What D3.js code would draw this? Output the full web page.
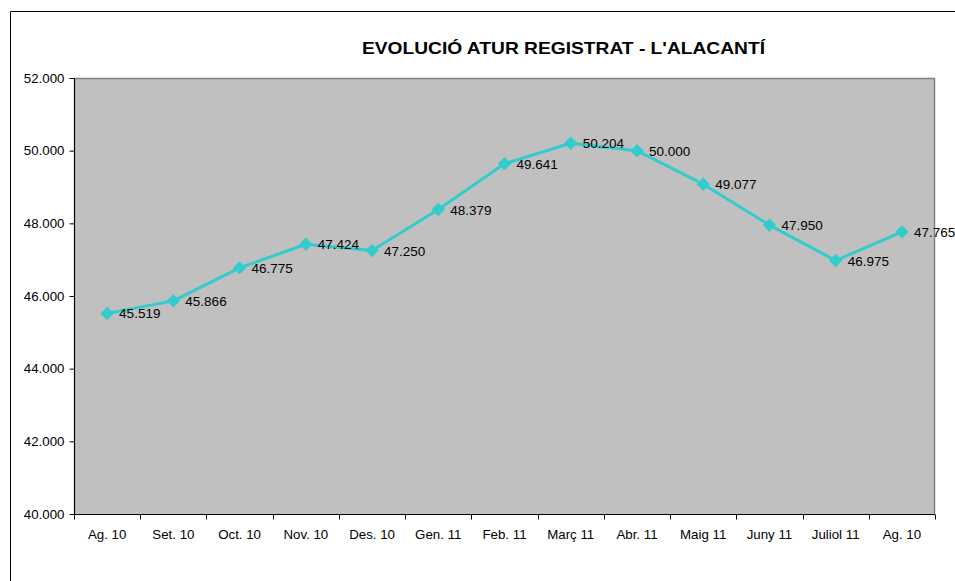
<!DOCTYPE html>
<html>
<head>
<meta charset="utf-8">
<script src="https://cdn.jsdelivr.net/npm/d3@7"></script>
<style>
  html, body { margin: 0; padding: 0; background: #fff; }
  svg { display: block; font-family: "Liberation Sans", Arial, sans-serif; }
</style>
</head>
<body>
<div id="chart"></div>
<script>
//chart data
var months = ['Ag. 10', 'Set. 10', 'Oct. 10', 'Nov. 10', 'Des. 10', 'Gen. 11', 'Feb. 11',
    'Març 11', 'Abr. 11', 'Maig 11', 'Juny 11', 'Juliol 11', 'Ag. 10'];
var atur = [45519, 45866, 46775, 47424, 47250, 48379, 49641, 50204, 50000, 49077, 47950, 46975, 47765];
var yTicks = [40000, 42000, 44000, 46000, 48000, 50000, 52000];
var chartTitle = "EVOLUCIÓ ATUR REGISTRAT - L'ALACANTÍ";

//environment variables
var width = 955,
    height = 581,
    plot = { left: 74, top: 78, right: 935, bottom: 514 },
    lineColor = '#33CCCC',
    locale = d3.formatLocale({ decimal: ',', thousands: '.', grouping: [3], currency: ['', '€'] }),
    fmt = locale.format(',.0f');

//use index as band key since month labels repeat
var rows = atur.map(function (v, i) { return { i: i, month: months[i], value: v }; });

//create svg
var svg = d3.select('#chart').append('svg')
    .attr('width', width)
    .attr('height', height);

//outer chart border (only left and top are in view)
svg.append('path')
    .attr('d', 'M10.5,' + height + 'V11.5H' + width)
    .attr('fill', 'none')
    .attr('stroke', '#000')
    .attr('stroke-width', 1);

//scales
var xScale = d3.scaleBand()
    .domain(rows.map(function (d) { return d.i; }))
    .range([plot.left, plot.right]);

var yScale = d3.scaleLinear()
    .domain([40000, 52000])
    .range([plot.bottom, plot.top]);

//plot background
svg.append('rect')
    .attr('x', plot.left)
    .attr('y', plot.top)
    .attr('width', plot.right - plot.left)
    .attr('height', plot.bottom - plot.top)
    .attr('fill', '#C0C0C0');

//gray frame on top and right
svg.append('path')
    .attr('d', 'M' + plot.left + ',' + (plot.top + 0.5) + 'H' + (plot.right - 0.5) + 'V' + plot.bottom)
    .attr('fill', 'none')
    .attr('stroke', '#808080')
    .attr('stroke-width', 1.5);

//title (excel stretched it wide)
svg.append('text')
    .attr('x', 362)
    .attr('y', 54)
    .attr('font-size', '16.5px')
    .attr('font-weight', 'bold')
    .attr('fill', '#000')
    .attr('textLength', 403)
    .attr('lengthAdjust', 'spacingAndGlyphs')
    .text(chartTitle);

//y axis
var yAxis = svg.append('g')
    .attr('transform', 'translate(' + (plot.left + 0.5) + ',0)')
    .call(d3.axisLeft(yScale).tickValues(yTicks).tickFormat(fmt).tickSize(5).tickPadding(5));

//x axis with ticks on band boundaries
var xAxis = svg.append('g')
    .attr('transform', 'translate(0,' + (plot.bottom + 0.5) + ')')
    .call(d3.axisBottom(xScale).tickFormat(function (i) { return months[i]; }).tickSize(0).tickPadding(15));

xAxis.selectAll('.bound')
    .data(d3.range(months.length + 1))
    .enter().append('line')
    .attr('class', 'bound')
    .attr('x1', function (i) { return Math.round(plot.left + i * xScale.bandwidth()) + 0.5; })
    .attr('x2', function (i) { return Math.round(plot.left + i * xScale.bandwidth()) + 0.5; })
    .attr('y1', 0)
    .attr('y2', 5)
    .attr('stroke', '#000');

//style axes
[xAxis, yAxis].forEach(function (a) {
    a.select('.domain').attr('stroke', '#000').attr('stroke-width', 1.2);
    a.selectAll('.tick line').attr('stroke', '#000');
    a.selectAll('text').attr('font-size', '13.3px').attr('fill', '#000')
        .attr('font-family', '"Liberation Sans", Arial, sans-serif');
});
yAxis.select('.domain').attr('d', 'M0,' + plot.top + 'V' + plot.bottom);
xAxis.select('.domain').attr('d', 'M' + plot.left + ',0H' + plot.right);

//line
var line = d3.line()
    .x(function (d) { return xScale(d.i) + xScale.bandwidth() / 2; })
    .y(function (d) { return yScale(d.value); });

svg.append('path')
    .datum(rows)
    .attr('d', line)
    .attr('fill', 'none')
    .attr('stroke', lineColor)
    .attr('stroke-width', 3)
    .attr('stroke-linejoin', 'round');

//diamond markers
var diamond = d3.symbol().type(d3.symbolSquare).size(90);
svg.selectAll('.marker')
    .data(rows)
    .enter().append('path')
    .attr('class', 'marker')
    .attr('d', diamond)
    .attr('fill', lineColor)
    .attr('transform', function (d) {
        return 'translate(' + (xScale(d.i) + xScale.bandwidth() / 2) + ',' + yScale(d.value) + ') rotate(45)';
    });

//data labels
svg.selectAll('.label')
    .data(rows)
    .enter().append('text')
    .attr('class', 'label')
    .attr('x', function (d) { return xScale(d.i) + xScale.bandwidth() / 2 + 12; })
    .attr('y', function (d) { return yScale(d.value) + 5; })
    .attr('font-size', '13.5px')
    .attr('fill', '#000')
    .text(function (d) { return fmt(d.value); });
</script>
</body>
</html>
